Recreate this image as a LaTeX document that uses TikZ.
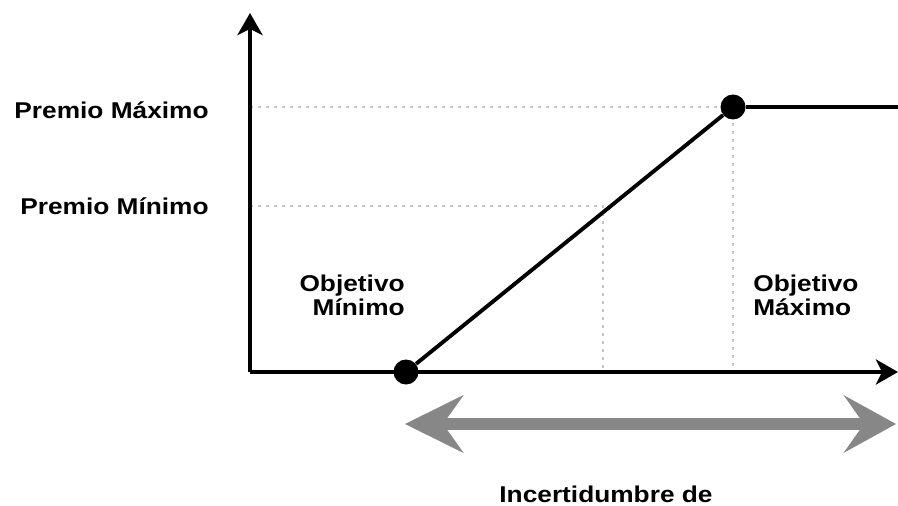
\documentclass[tikz,border=0pt]{standalone}
\usepackage{fontspec}
\setmainfont{Liberation Sans}[FakeStretch=1.15]
\usetikzlibrary{arrows.meta}
\definecolor{bandgray}{RGB}{135,135,135}

\begin{document}
\begin{tikzpicture}[axis/.style={line width=2.2pt,-{Stealth[length=0.44cm,width=0.5cm,inset=0.12cm]}},
                    guide/.style={draw=gray!45,line width=0.6pt,dash pattern=on 0.06cm off 0.1cm},
                    dot/.style={circle,fill=black,inner sep=0pt,minimum size=0.5cm},
                    lbl/.style={font=\fontsize{13}{16}\selectfont\bfseries,inner sep=0pt}]

\useasboundingbox (0,0) rectangle (17.96,10.1);

\coordinate (o) at (5,2.66);
\coordinate (ytop) at (5,9.84);
\coordinate (xend) at (17.96,2.66);
\coordinate (pmaxy) at (5,7.96);
\coordinate (pminy) at (5,5.98);
\coordinate (pminx) at (12.06,5.98);
\coordinate (pminb) at (12.06,2.66);
\coordinate (maxb) at (14.66,2.66);
\coordinate (maxend) at (17.96,7.96);

% guides
\draw[guide] (pmaxy) -- (14.66,7.96);
\draw[guide] (pminy) -- (pminx) -- (pminb);
\draw[guide] (14.66,7.96) -- (maxb);

% axes
\draw[axis] (o) -- (ytop);
\draw[axis] (o) -- (xend);

\node[dot] (minobj) at (8.12,2.66) {};
\node[dot] (maxobj) at (14.66,7.96) {};
\draw[line width=2.2pt] (minobj) -- (maxobj) -- (maxend);

\node[lbl,anchor=base east] (pmax) at (4.18,7.72) {Premio Máximo};
\node[lbl,anchor=base east] (pmin) at (4.18,5.8) {Premio Mínimo};
\node[lbl,anchor=base east,align=right] (omin) at (8.1,3.8) {Objetivo\\[-2.5pt]Mínimo};
\node[lbl,anchor=base west,align=left] (omax) at (15.06,3.8) {Objetivo\\[-2.5pt]Máximo};

% band
\coordinate (bl) at (8.1,1.62);
\coordinate (br) at (17.92,1.62);
\draw[bandgray,line width=0.24cm,{Stealth[length=1.16cm,width=1.14cm,inset=0.4cm]}-{Stealth[length=1.04cm,width=1.14cm,inset=0.4cm]}] (bl) -- (br);

\node[lbl,anchor=base] (inc) at (12.12,0.06) {Incertidumbre de};
\end{tikzpicture}
\end{document}
